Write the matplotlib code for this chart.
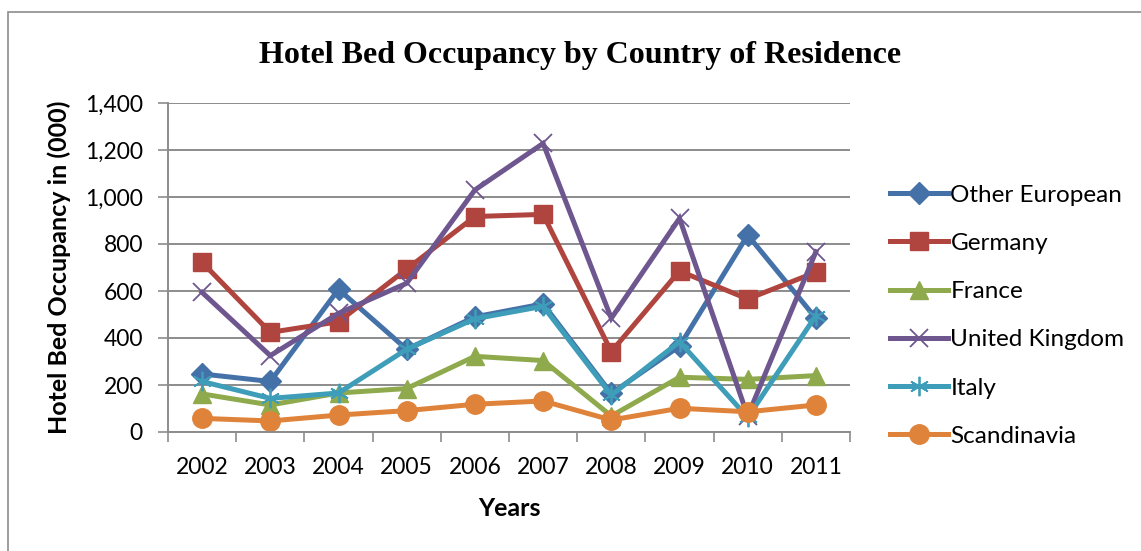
import matplotlib
matplotlib.use("Agg")
import matplotlib.pyplot as plt
from matplotlib.patches import Rectangle

# Hotel bed occupancy (thousands) by country of residence
years = ["2002", "2003", "2004", "2005", "2006", "2007", "2008", "2009", "2010", "2011"]
other_european = [247, 215, 607, 352, 490, 545, 164, 365, 838, 484]
germany = [722, 424, 469, 693, 917, 926, 342, 685, 566, 680]
france = [162, 115, 166, 185, 322, 304, 68, 233, 224, 240]
united_kingdom = [594, 325, 505, 633, 1030, 1228, 484, 909, 68, 767]
italy = [215, 143, 166, 352, 482, 535, 157, 384, 62, 495]
scandinavia = [58, 47, 72, 91, 118, 132, 51, 101, 86, 115]

series = [
    ("Other European", other_european, "#4472a8", "D", 11),
    ("Germany", germany, "#b0443f", "s", 13),
    ("France", france, "#8eaa4c", "^", 13),
    ("United Kingdom", united_kingdom, "#6e568f", "x", 13),
    ("Italy", italy, "#3e9db8", (6, 2, 0), 14),
    ("Scandinavia", scandinavia, "#e0833a", "o", 14),
]

plt.rcParams["font.family"] = ["Lato", "DejaVu Sans"]
fig = plt.figure(figsize=(11.41, 5.51), dpi=100)
fig.patches.append(Rectangle((8 / 1141, -0.1), 1.2, 1.1 - 12 / 551, transform=fig.transFigure,
                             fill=False, edgecolor="#8c8c8c", lw=1.2))
ax = fig.add_axes([168 / 1141, 1 - 432 / 551, (850 - 168) / 1141, (432 - 103) / 551])

x = list(range(len(years)))
for name, vals, color, marker, ms in series:
    thin = marker in ("x", (6, 2, 0))
    ax.plot(x, vals, color=color, lw=3.6, marker=marker, ms=ms, label=name,
            markeredgewidth=1.3 if thin else 1, markeredgecolor=color,
            markerfacecolor=color, solid_joinstyle="miter")

ax.set_xlim(-0.5, len(years) - 0.5)
ax.set_ylim(0, 1400)
ax.set_yticks(range(0, 1401, 200))
ax.set_yticklabels([f"{v:,}" for v in range(0, 1401, 200)])
ax.set_xticks(x)
ax.set_xticklabels(years)
ax.set_xticks([i - 0.5 for i in range(len(years) + 1)], minor=True)
ax.tick_params(axis="x", which="major", length=0, pad=18, labelsize=16.5)
ax.tick_params(axis="x", which="minor", length=7, width=1.2, color="#8c8c8c", direction="out")
ax.tick_params(axis="y", length=7, width=1.2, color="#8c8c8c", direction="out", pad=11, labelsize=16.5)
ax.grid(axis="y", color="#8c8c8c", lw=1.4)
ax.set_axisbelow(True)
for s in ("top", "right"):
    ax.spines[s].set_visible(False)
for s in ("left", "bottom"):
    ax.spines[s].set_color("#8c8c8c")
    ax.spines[s].set_linewidth(1.4)

ax.set_xlabel("Years", fontsize=18, fontweight="bold", labelpad=14)
ax.set_ylabel("Hotel Bed Occupancy in (000)", fontsize=18, fontweight="bold", labelpad=10)
fig.text(580 / 1141, 1 - 55 / 551, "Hotel Bed Occupancy by Country of Residence",
         ha="center", va="center", fontsize=23, fontweight="bold", family="Liberation Serif")

ax.legend(loc="upper left", bbox_to_anchor=(880 / 1141, 1 - 175 / 551), bbox_transform=fig.transFigure,
          frameon=False, fontsize=17.5, handlelength=2.4, handletextpad=0.1, labelspacing=1.12,
          borderaxespad=0)

fig.savefig("out.png", dpi=100)
